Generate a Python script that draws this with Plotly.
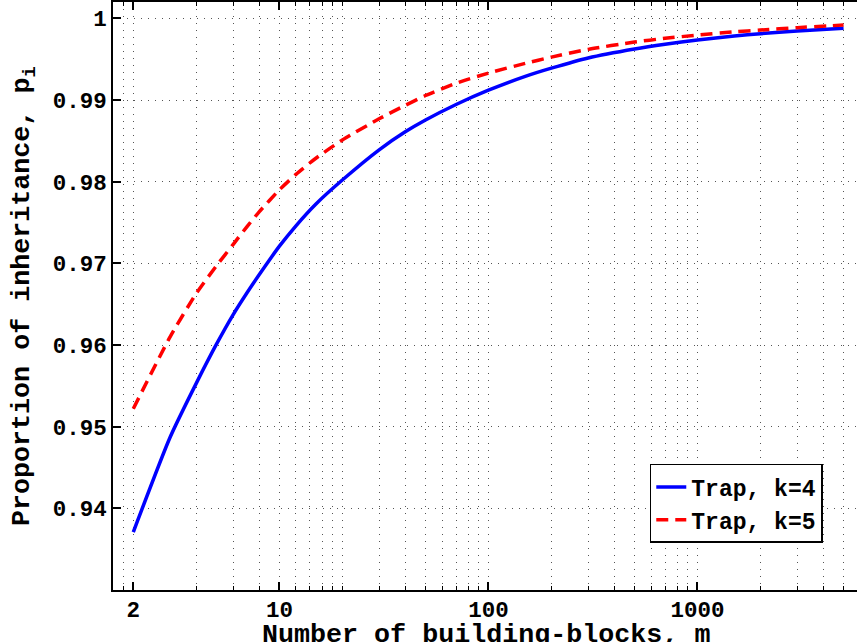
import plotly.graph_objects as go

# ---- data ----
m_values = [2, 3, 4, 5, 6, 7, 8, 10, 12, 15, 20, 30, 40, 50, 70, 100, 150, 200,
            300, 500, 700, 1000, 1500, 2000, 3000, 5000]
trap_k4 = [0.9371, 0.9487, 0.9553, 0.9601, 0.9637, 0.9664, 0.9686, 0.9721, 0.9746,
           0.9773, 0.9802, 0.9839, 0.9861, 0.98755, 0.98945, 0.9912, 0.9929, 0.9939,
           0.99515, 0.99625, 0.99683, 0.99735, 0.99783, 0.99812, 0.99846, 0.9988]
trap_k5 = [0.9522, 0.9610, 0.9663, 0.9697, 0.9723, 0.9745, 0.9763, 0.9790, 0.9809,
           0.9829, 0.9851, 0.9877, 0.98935, 0.99055, 0.99205, 0.9933, 0.99448, 0.99525,
           0.9962, 0.9971, 0.99755, 0.99795, 0.99834, 0.99857, 0.99886, 0.99918]
series_names = ["Trap, k=4", "Trap, k=5"]

x_tick_vals = [2, 10, 100, 1000]
x_tick_text = ["2", "10", "100", "1000"]
x_minor_grid = [1.8, 4, 6, 8, 12, 14, 16, 18, 20, 30, 40, 50, 60, 70, 80, 90,
                200, 300, 400, 500, 600, 700, 800, 900,
                2000, 3000, 4000, 5000, 6000, 7000, 8000, 9000]
y_tick_vals = [0.94, 0.95, 0.96, 0.97, 0.98, 0.99, 1.0]
y_tick_text = ["0.94", "0.95", "0.96", "0.97", "0.98", "0.99", "1"]
x_title = "Number of building-blocks, m"
y_title = "Proportion of inheritance, p<sub>i</sub>"

FONT = "Liberation Mono, Courier New, DejaVu Sans Mono, monospace"
tick_font = dict(family=FONT, size=22.5, color="black", weight="bold")
legend_font = dict(family=FONT, size=23, color="black", weight="bold")
title_font = dict(family=FONT, size=26.7, color="black", weight="bold")
GRID = "#555555"
GRIDDASH = "1px,6px"

fig = go.Figure()
fig.add_trace(go.Scatter(x=m_values, y=trap_k4, mode="lines", name=series_names[0],
                         line=dict(color="#0000FF", width=3.5, shape="spline", smoothing=0.6)))
fig.add_trace(go.Scatter(x=m_values, y=trap_k5, mode="lines", name=series_names[1],
                         line=dict(color="#FF0000", width=3.5, dash="12px,7px",
                                   shape="spline", smoothing=0.6)))

fig.update_layout(
    width=857, height=642,
    margin=dict(l=113, r=0, t=2, b=52, pad=0),
    paper_bgcolor="white", plot_bgcolor="white",
    showlegend=True,
    legend=dict(x=0.954, y=0.08, xanchor="right", yanchor="bottom",
                bordercolor="black", borderwidth=1.5, bgcolor="white",
                font=legend_font, tracegroupgap=0),
    xaxis=dict(
        type="log", range=[0.2039, 3.7632],
        tickmode="array", tickvals=x_tick_vals, ticktext=x_tick_text,
        ticks="inside", ticklen=8, tickwidth=1.5, tickcolor="black",
        showline=True, linecolor="black", linewidth=1.5, mirror="allticks",
        showgrid=True, gridcolor=GRID, gridwidth=1, griddash=GRIDDASH,
        zeroline=False, tickfont=tick_font, automargin=False,
        ticklabelstandoff=-2,
        minor=dict(tickmode="array", tickvals=x_minor_grid, ticks="inside",
                   ticklen=4, tickwidth=1, tickcolor="black",
                   showgrid=True, gridcolor=GRID, gridwidth=1, griddash=GRIDDASH),
    ),
    yaxis=dict(
        range=[0.93, 1.002],
        tickmode="array", tickvals=y_tick_vals, ticktext=y_tick_text,
        ticks="inside", ticklen=8, tickwidth=1.5, tickcolor="black",
        showline=True, linecolor="black", linewidth=1.5, mirror=False,
        showgrid=True, gridcolor=GRID, gridwidth=1, griddash=GRIDDASH,
        zeroline=False, tickfont=tick_font, automargin=False,
    ),
    yaxis2=dict(
        overlaying="y", side="right", anchor="x", matches="y",
        range=[0.93, 1.002],
        tickmode="array", tickvals=y_tick_vals,
        ticks="inside", ticklen=8, tickwidth=1.5, tickcolor="black",
        showticklabels=False, showline=False, showgrid=False, zeroline=False,
    ),
    annotations=[
        dict(text=x_title, xref="paper", yref="paper", x=0.502, y=-0.047,
             xanchor="center", yanchor="top", showarrow=False, font=title_font),
        dict(text=y_title, xref="paper", yref="paper", x=-0.1196, y=0.5,
             xanchor="center", yanchor="middle", textangle=-90, showarrow=False,
             font=title_font),
    ],
)

fig.write_html("out.html")
